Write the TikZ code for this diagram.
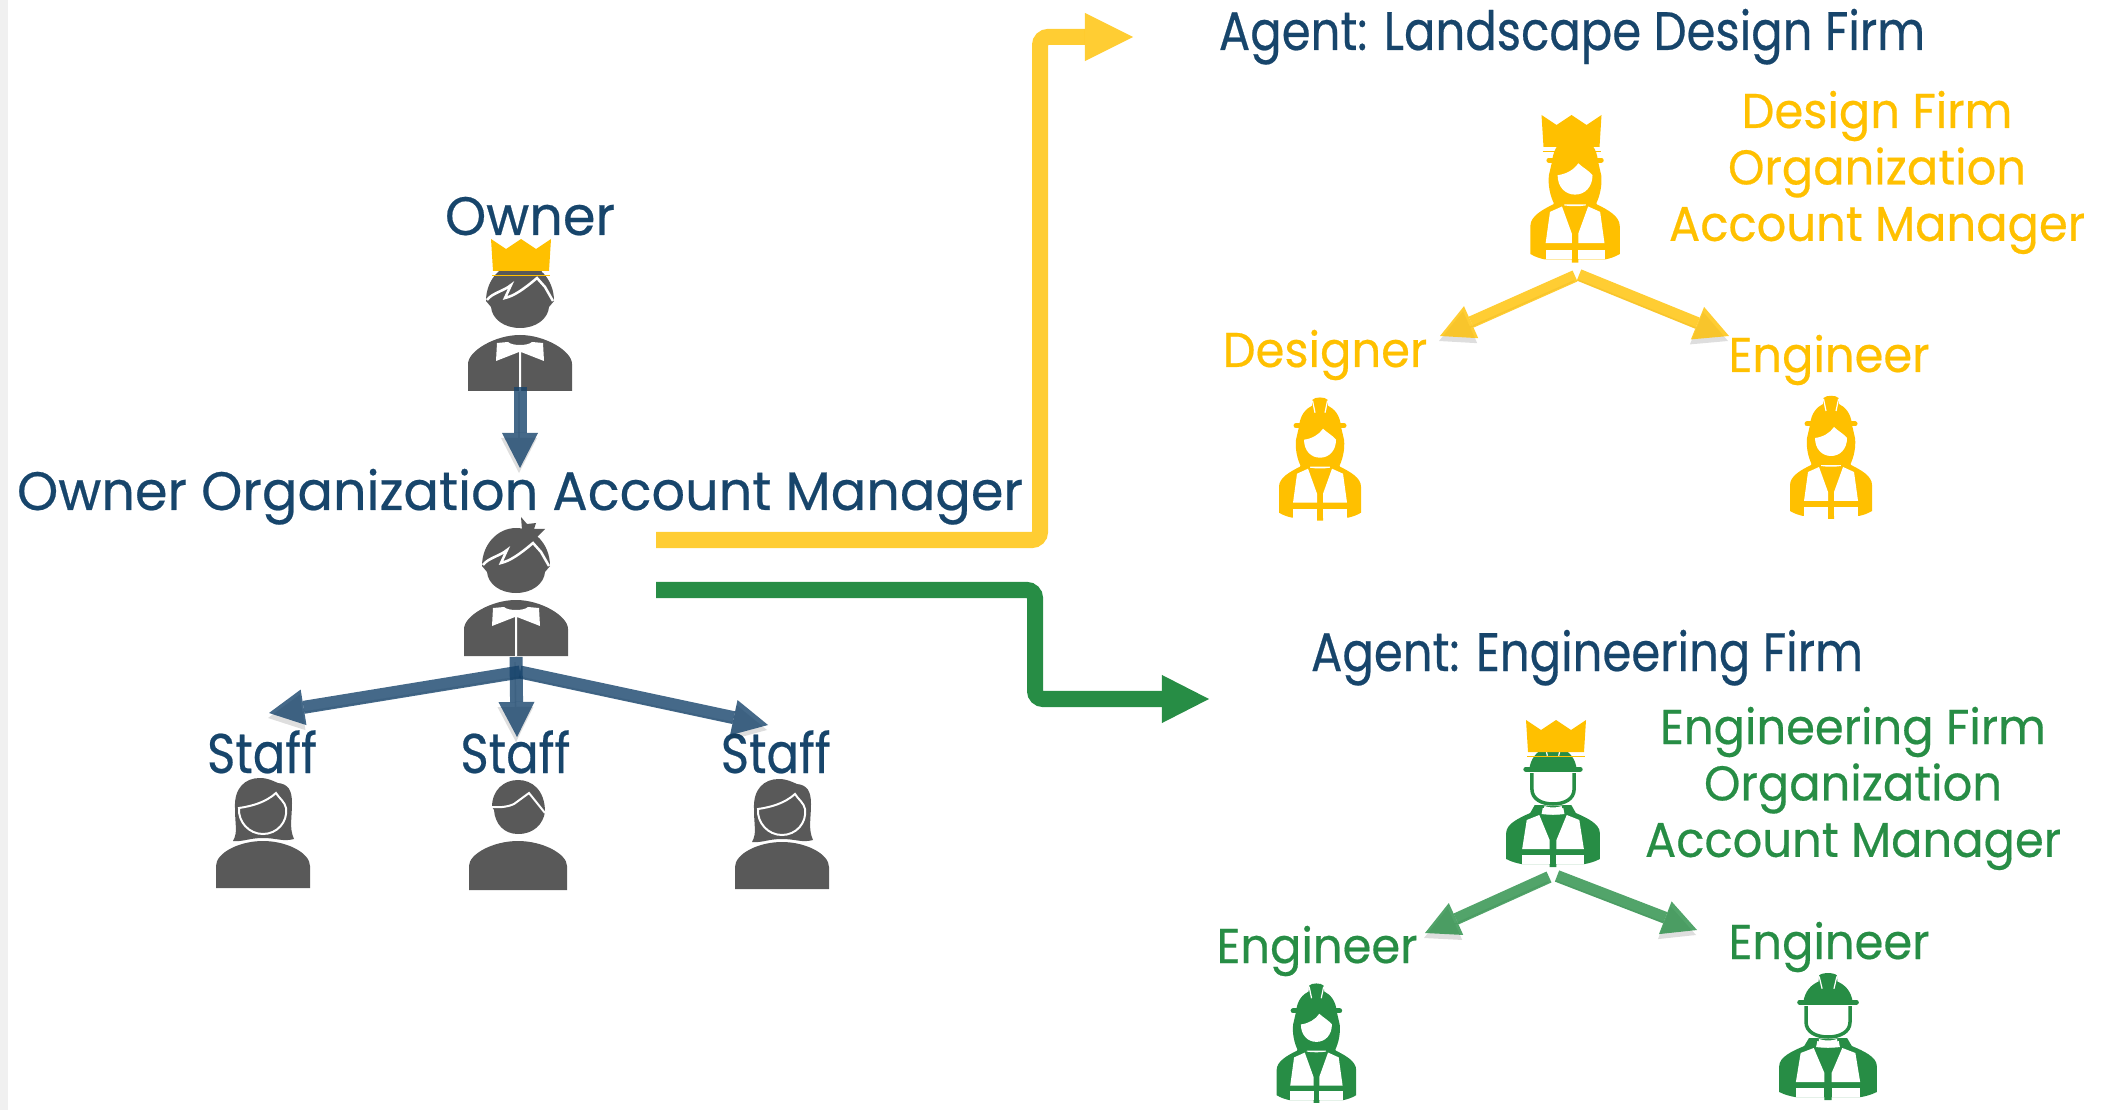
\documentclass[tikz,border=0pt]{standalone}
\usepackage{fontspec}
\setmainfont[FakeStretch=0.97,FakeBold=0.4]{Poppins}
\newfontfamily\staffont[FakeStretch=0.86,FakeBold=0.4]{Poppins}
\newfontfamily\firmfont[FakeStretch=0.95,FakeBold=0.4]{Poppins}
\usetikzlibrary{positioning}
\usetikzlibrary{arrows.meta}
\definecolor{title_blue}{HTML}{17456B}
\definecolor{flow_blue}{HTML}{16436B}
\definecolor{icon_gray}{HTML}{595959}
\definecolor{firm_yellow}{HTML}{FFC000}
\definecolor{firm_green}{HTML}{278D45}
\tikzstyle{big_text}=[font=\fontsize{15.4pt}{18pt}\selectfont,text=title_blue,inner sep=0pt,anchor=base]
\tikzstyle{agent_text}=[font=\staffont\fontsize{15.4pt}{18pt}\selectfont,text=title_blue,inner sep=0pt,anchor=base]
\tikzstyle{staff_text}=[font=\staffont\fontsize{15.9pt}{18pt}\selectfont,text=title_blue,inner sep=0pt,text height=3.8mm,text depth=0mm]
\tikzstyle{yellow_text}=[font=\firmfont\fontsize{13.9pt}{18pt}\selectfont,text=firm_yellow,inner sep=0pt,text height=3.8mm,text depth=1.2mm]
\tikzstyle{green_text}=[font=\firmfont\fontsize{13.9pt}{18pt}\selectfont,text=firm_green,inner sep=0pt,text height=3.8mm,text depth=1.2mm]
\tikzstyle{drop}=[preaction={draw=black,opacity=0.13,transform canvas={xshift=-0.1mm,yshift=-0.5mm}}]
\tikzstyle{blue_arrow}=[draw=flow_blue,opacity=0.8,line width=1.3mm,-{Triangle[length=3.5mm,width=3.6mm,line width=0pt]},drop]
\tikzstyle{yellow_arrow}=[draw=firm_yellow,opacity=0.8,line width=1.2mm,-{Triangle[length=3.4mm,width=3.5mm,line width=0pt]},drop]
\tikzstyle{green_arrow}=[draw=firm_green,opacity=0.8,line width=1.2mm,-{Triangle[length=3.4mm,width=3.5mm,line width=0pt]},drop]
\tikzstyle{yellow_flow}=[draw=firm_yellow,opacity=0.8,line width=1.6mm,rounded corners=0.8mm,-{Triangle[length=4.8mm,width=4.8mm,line width=0pt]}]
\tikzstyle{green_flow}=[draw=firm_green,line width=1.6mm,rounded corners=0.8mm,-{Triangle[length=4.7mm,width=4.8mm,line width=0pt]}]
\tikzset{
  crown/.pic={
    \fill[firm_yellow] (-28,0) -- (-30,-32) -- (-15,-22) -- (0,-32) -- (15,-22) -- (30,-32) -- (28,0) -- cycle;
    \draw[firm_yellow,line width=0.05mm] (-29,4) -- (29,4);
  },
  suit_man/.pic={
    \fill[icon_gray] (-52,0) -- (-52,-27) .. controls (-52,-40) and (-25,-56) .. (0,-56) .. controls (25,-56) and (52,-40) .. (52,-27) -- (52,0) -- cycle;
    \fill[white] (-23,-48) -- (-12,-49) .. controls (-8,-45) and (8,-45) .. (12,-49) -- (23,-48) -- (24,-30) -- (1,-39) -- (1,0) -- (-1,0) -- (-1,-39) -- (-24,-30) -- cycle;
    \fill[icon_gray] (-34,-90) .. controls (-34,-112) and (-18,-128) .. (0,-128) .. controls (18,-128) and (34,-112) .. (34,-90) -- (29,-84) .. controls (28,-72) and (16,-63) .. (0,-63) .. controls (-16,-63) and (-28,-72) .. (-29,-84) -- cycle;
    \fill[icon_gray] (6,-126) -- (5,-139) -- (11,-132) -- (20,-133) -- (18,-127) -- (29,-127) -- (20,-118) -- cycle;
    \draw[white,line width=0.25mm] (-33,-91) .. controls (-28,-98) and (-16,-100) .. (-9,-106) -- (-15,-93) .. controls (-6,-95) and (4,-102) .. (17,-113) -- (25,-104) -- (33,-90);
  },
  plain_man/.pic={
    \fill[icon_gray] (-49,0) -- (-49,-24) .. controls (-49,-36) and (-25,-49) .. (0,-49) .. controls (25,-49) and (49,-36) .. (49,-24) -- (49,0) -- cycle;
    \fill[icon_gray] (-26,-83) .. controls (-26,-100) and (-14,-110) .. (0,-110) .. controls (14,-110) and (27,-100) .. (27,-78) .. controls (25,-66) and (16,-56) .. (0,-56) .. controls (-14,-56) and (-23,-66) .. (-24,-80) -- cycle;
    \draw[white,line width=0.2mm] (-27,-83) .. controls (-16,-82) and (-8,-84) .. (-4,-86) -- (11,-97) -- (27,-77);
  },
  plain_woman/.pic={
    \fill[icon_gray] (-47,0) -- (-47,-22) .. controls (-47,-35) and (-24,-47) .. (0,-47) .. controls (24,-47) and (47,-35) .. (47,-22) -- (47,0) -- cycle;
    \fill[icon_gray] (-30,-47) .. controls (-25,-56) and (-28,-62) .. (-28,-80) .. controls (-29,-100) and (-18,-110) .. (-3,-110) .. controls (5,-110) and (10,-107) .. (15,-105) .. controls (25,-104) and (29,-98) .. (29,-85) .. controls (29,-70) and (26,-60) .. (31,-49) .. controls (20,-46) and (14,-50) .. (0,-50) .. controls (-14,-50) and (-20,-46) .. (-30,-47) -- cycle;
    \draw[white,line width=0.2mm] (-24,-80) .. controls (-10,-82) and (3,-86) .. (13,-95) .. controls (16,-90) and (22,-86) .. (23,-80) .. controls (25,-66) and (14,-54) .. (0,-54) .. controls (-14,-54) and (-25,-66) .. (-24,-80) -- cycle;
  },
  vest/.pic={
    \fill[#1] (-41,-8) -- (-41,-34) .. controls (-41,-43) and (-30,-49) .. (-20,-54) -- (-16,-62) -- (16,-62) -- (20,-54) .. controls (30,-49) and (41,-43) .. (41,-34) -- (41,-8) .. controls (36,-5) and (32,-4) .. (28,-3) -- (3,-3) -- (3,0) -- (-3,0) -- (-3,-3) -- (-28,-3) .. controls (-32,-4) and (-36,-5) .. (-41,-8) -- cycle;
    \fill[white] (-23,-47) -- (-12,-52) -- (-3,-27) -- (-3,-18) -- (-27,-18) -- cycle;
    \fill[white] (23,-47) -- (12,-52) -- (3,-27) -- (3,-18) -- (27,-18) -- cycle;
    \fill[white] (-27,-12) -- (-3,-12) -- (-3,-3) -- (-27,-3) -- cycle;
    \fill[white] (27,-12) -- (3,-12) -- (3,-3) -- (27,-3) -- cycle;
    \fill[white] (-9,-59) .. controls (-4,-57) and (4,-57) .. (9,-59) -- (10,-53) .. controls (4,-52) and (-4,-52) .. (-10,-53) -- cycle;
  },
  hard_hat/.pic={
    \fill[#1] (-21,-94) .. controls (-20,-106) and (-14,-112) .. (-8,-115) -- (-7.5,-121) .. controls (-5,-124) and (5,-124) .. (7.5,-121) -- (8,-115) .. controls (14,-112) and (20,-106) .. (21,-94) -- cycle;
    \draw[#1,line width=0.5mm,line cap=round] (-24,-95) -- (24,-95);
    \draw[white,line width=0.12mm] (-7.5,-120) -- (-5,-108);
    \draw[white,line width=0.12mm] (7.5,-120) -- (5,-108);
  },
  vest_woman/.pic={
    \pic {vest=#1};
    \pic {hard_hat=#1};
    \fill[#1] (-21,-94) -- (-24,-81) .. controls (-25,-72) and (-23,-62) .. (-19,-54) -- (19,-54) .. controls (23,-62) and (25,-72) .. (24,-81) -- (21,-94) -- cycle;
    \fill[white] (-16,-81) .. controls (-8,-82) and (-1,-86) .. (3,-92) .. controls (7,-88) and (13,-85) .. (16,-81) .. controls (16,-70) and (9,-63) .. (0,-63) .. controls (-9,-63) and (-16,-70) .. (-16,-81) -- cycle;
  },
  vest_man/.pic={
    \begin{scope}[xscale=1.19]
      \pic[transform shape] {vest=#1};
    \end{scope}
    \begin{scope}[xscale=1.18,yscale=1.03]
      \pic[transform shape] {hard_hat=#1};
    \end{scope}
    \fill[white] (-22,-94) -- (22,-94) -- (22,-70) .. controls (22,-58) and (-22,-58) .. (-22,-70) -- cycle;
    \draw[#1,line width=0.35mm] (-22,-94) -- (-22,-78) .. controls (-22,-68) and (-12,-63) .. (0,-63) .. controls (12,-63) and (22,-68) .. (22,-78) -- (22,-94);
    \fill[white] (-9,-61) .. controls (-4,-59) and (4,-59) .. (9,-61) -- (10,-54) .. controls (4,-52) and (-4,-52) .. (-10,-54) -- cycle;
  }
}
\begin{document}
\begin{tikzpicture}[x=0.01cm,y=-0.01cm]
    \useasboundingbox (0,0) rectangle (2113,1110);
    \fill[black!6] (0,0) rectangle (8,1110);

    % owner side
    \node (ow) [big_text] at (530,235) {Owner};
    \node (om) [big_text] at (520,510) {Owner Organization Account Manager};
    \pic at (520,391) {suit_man};
    \pic at (521,271) {crown};
    \pic at (516,656) {suit_man};
    \coordinate (ow_a) at (520,387);
    \coordinate (ow_b) at (520,468);
    \draw[blue_arrow] (ow_a) -- (ow_b);

\node (s0) [staff_text,anchor=base] at (262,773) {Staff};
\node (s1) [staff_text,right=1.42cm of s0] {Staff};
\node (s2) [staff_text,right=1.49cm of s1] {Staff};
    \pic at (263,888) {plain_woman};
    \pic at (518,890) {plain_man};
    \pic at (782,889) {plain_woman};
    \coordinate (om_a) at (516,657);
    \coordinate (om_b) at (520,672);
    \coordinate (s0_a) at (269,713);
    \coordinate (s1_a) at (517,737);
    \coordinate (s2_a) at (768,725);
    \draw[blue_arrow] (om_a) -- (s1_a);
    \draw[blue_arrow] (om_b) -- (s0_a);
    \draw[blue_arrow] (om_b) -- (s2_a);

    % flows to the agents
    \coordinate (yf_a) at (656,540);
    \coordinate (yf_k) at (1040,37);
    \coordinate (yf_b) at (1133,37);
    \coordinate (gf_a) at (656,590);
    \coordinate (gf_k) at (1035,699);
    \coordinate (gf_b) at (1209,699);
    \draw[yellow_flow] (yf_a) -| (yf_k) -- (yf_b);
    \draw[green_flow] (gf_a) -| (gf_k) -- (gf_b);

    % design firm
    \node (ay) [agent_text] at (1572,50) {Agent: Landscape Design Firm};
    \node (y0) [yellow_text] at (1877,115) {Design Firm};
\node (y1) [yellow_text,below=0.5mm of y0] {Organization};
\node (y2) [yellow_text,below=0.5mm of y1] {Account Manager};
    \node (y3) [yellow_text,anchor=base] at (1325,367) {Designer};
    \node (y4) [yellow_text,anchor=base] at (1829,372) {Engineer};
    \begin{scope}[xscale=1.09,yscale=1.08,shift={(1445,243.2)}]
      \pic[transform shape] {vest_woman=firm_yellow};
    \end{scope}
    \pic at (1571.5,147) {crown};
    \pic at (1320,520.7) {vest_woman=firm_yellow};
    \pic at (1831,519) {vest_woman=firm_yellow};
    \coordinate (yl_a) at (1575,276);
    \coordinate (yl_b) at (1440,336);
    \coordinate (yr_a) at (1579,275);
    \coordinate (yr_b) at (1729,336);
    \draw[yellow_arrow] (yl_a) -- (yl_b);
    \draw[yellow_arrow] (yr_a) -- (yr_b);

    % engineering firm
    \node (ag) [agent_text] at (1587,671) {Agent: Engineering Firm};
    \node (g0) [green_text] at (1853,731) {Engineering Firm};
\node (g1) [green_text,below=0.5mm of g0] {Organization};
\node (g2) [green_text,below=0.5mm of g1] {Account Manager};
    \node (g3) [green_text,anchor=base] at (1317,963) {Engineer};
    \node (g4) [green_text,anchor=base] at (1829,959) {Engineer};
    \begin{scope}[xscale=0.96,shift={(1617.7,867)}]
      \pic[transform shape] {vest_man=firm_green};
    \end{scope}
    \pic at (1556,752) {crown};
    \pic at (1828,1100) {vest_man=firm_green};
    \begin{scope}[xscale=0.97,yscale=0.97,shift={(1357.1,1137.1)}]
      \pic[transform shape] {vest_woman=firm_green};
    \end{scope}
    \coordinate (gl_a) at (1549,877);
    \coordinate (gl_b) at (1425,933);
    \coordinate (gr_a) at (1557,876);
    \coordinate (gr_b) at (1697,930);
    \draw[green_arrow] (gl_a) -- (gl_b);
    \draw[green_arrow] (gr_a) -- (gr_b);
\end{tikzpicture}
\end{document}
